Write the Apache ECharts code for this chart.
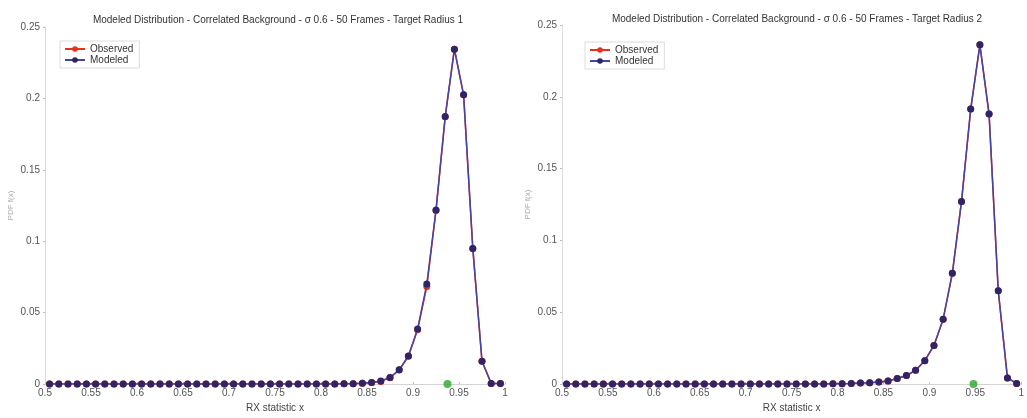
<!DOCTYPE html>
<html>
<head>
<meta charset="utf-8">
<script src="https://cdn.jsdelivr.net/npm/echarts@6/dist/echarts.min.js"></script>
<style>
  html, body { margin: 0; padding: 0; background: #fff; }
  #chart { width: 1027px; height: 418px; }
</style>
</head>
<body>
<div id="chart"></div>
<script>
// Bin centres of the RX statistic histogram
const binCenters = [
  0.505, 0.515, 0.525, 0.535, 0.545, 0.555, 0.565, 0.575, 0.585, 0.595,
  0.605, 0.615, 0.625, 0.635, 0.645, 0.655, 0.665, 0.675, 0.685, 0.695,
  0.705, 0.715, 0.725, 0.735, 0.745, 0.755, 0.765, 0.775, 0.785, 0.795,
  0.805, 0.815, 0.825, 0.835, 0.845, 0.855, 0.865, 0.875, 0.885, 0.895,
  0.905, 0.915, 0.925, 0.935, 0.945, 0.955, 0.965, 0.975, 0.985, 0.995
];

// Target radius 1
const observedR1 = [
  0, 0, 0, 0, 0, 0, 0, 0, 0, 0,
  0, 0, 0, 0, 0, 0, 0, 0, 0, 0,
  0, 0, 0, 0, 0, 0, 0, 0, 0, 0,
  0, 0.0001, 0.0002, 0.0003, 0.0006, 0.0012, 0.0019, 0.0045, 0.0098, 0.0195,
  0.0380, 0.0683, 0.1216, 0.1872, 0.2345, 0.2025, 0.0950, 0.0160, 0.0005, 0.0004
];
const modeledR1 = [
  0, 0, 0, 0, 0, 0, 0, 0, 0, 0,
  0, 0, 0, 0, 0, 0, 0, 0, 0, 0,
  0, 0, 0, 0, 0, 0, 0, 0, 0, 0,
  0, 0.0001, 0.0002, 0.0003, 0.0006, 0.0012, 0.0022, 0.0046, 0.0100, 0.0197,
  0.0385, 0.0700, 0.1218, 0.1873, 0.2345, 0.2025, 0.0950, 0.0160, 0.0005, 0.0004
];

// Target radius 2
const observedR2 = [
  0, 0, 0, 0, 0, 0, 0, 0, 0, 0,
  0, 0, 0, 0, 0, 0, 0, 0, 0, 0,
  0, 0, 0, 0, 0, 0, 0, 0, 0, 0.0002,
  0.0003, 0.0005, 0.0008, 0.0010, 0.0014, 0.0021, 0.0039, 0.0060, 0.0096, 0.0163,
  0.0269, 0.0452, 0.0771, 0.1272, 0.1915, 0.2362, 0.1880, 0.0650, 0.0043, 0.0005
];
const modeledR2 = [
  0, 0, 0, 0, 0, 0, 0, 0, 0, 0,
  0, 0, 0, 0, 0, 0, 0, 0, 0, 0,
  0, 0, 0, 0, 0, 0, 0, 0, 0, 0.0002,
  0.0003, 0.0005, 0.0008, 0.0010, 0.0014, 0.0021, 0.0039, 0.0060, 0.0096, 0.0163,
  0.0269, 0.0452, 0.0771, 0.1272, 0.1915, 0.2362, 0.1880, 0.0650, 0.0043, 0.0005
];

// Observed target statistic (green marker on the baseline)
const targetX = [0.9375, 0.948];
const targetY = [0, 0];

const titles = [
  'Modeled Distribution - Correlated Background - \u03c3 0.6 - 50 Frames - Target Radius 1',
  'Modeled Distribution - Correlated Background - \u03c3 0.6 - 50 Frames - Target Radius 2'
];
const xAxisTitle = 'RX statistic x';
const yAxisTitle = 'PDF f(x)';

const FONT = '"Liberation Sans", Arial, sans-serif';
const RED = '#e8321e';
const NAVY_LINE = '#4444a4';
const NAVY_DOT = '#2e2568';
const GREEN = '#2aa82a';

const pairs = (xs, ys) => xs.map((x, i) => [x, ys[i]]);

function makeX(gridIndex) {
  return {
    type: 'value', gridIndex, min: 0.5, max: 1, interval: 0.05,
    name: xAxisTitle, nameLocation: 'middle', nameGap: 13,
    nameTextStyle: { fontFamily: FONT, fontSize: 10, color: '#444' },
    axisLine: { show: true, lineStyle: { color: '#d4d4d4', width: 1 } },
    axisTick: { show: true, length: 2, inside: true, lineStyle: { color: '#bbb' } },
    axisLabel: { fontFamily: FONT, fontSize: 10, color: '#555', margin: 4 },
    splitLine: { show: false }
  };
}
function makeY(gridIndex) {
  return {
    type: 'value', gridIndex, min: 0, max: 0.25, interval: 0.05,
    name: yAxisTitle, nameLocation: 'middle', nameGap: 30, nameRotate: 90,
    nameTextStyle: { fontFamily: FONT, fontSize: 8, color: '#aaa' },
    axisLine: { show: true, lineStyle: { color: '#dcdcdc', width: 1 } },
    axisTick: { show: true, length: 2, lineStyle: { color: '#bbb' } },
    axisLabel: { fontFamily: FONT, fontSize: 10, color: '#555', margin: 5 },
    splitLine: { show: false }
  };
}
function lineSeries(name, idx, data, lineColor, dotColor, z) {
  return {
    name, type: 'line', xAxisIndex: idx, yAxisIndex: idx,
    data, symbol: 'circle', symbolSize: 7, showSymbol: true,
    lineStyle: { color: lineColor, width: 1.5 },
    itemStyle: { color: dotColor, borderColor: dotColor, borderWidth: 0 },
    z, animation: false
  };
}
function makeLegend(left, top) {
  return {
    left, top, orient: 'vertical', itemGap: 1,
    itemWidth: 20, itemHeight: 7,
    padding: [3, 6, 3, 4],
    borderColor: '#dcdcdc', borderWidth: 1, backgroundColor: '#fff',
    textStyle: { fontFamily: FONT, fontSize: 10, color: '#333' },
    data: ['Observed', 'Modeled'],
    selectedMode: false
  };
}

const chart = echarts.init(document.getElementById('chart'), null, { renderer: 'canvas' });
chart.setOption({
  backgroundColor: '#fff',
  animation: false,
  title: [
    { text: titles[0], left: 273, top: 10, textAlign: 'center',
      textStyle: { fontFamily: FONT, fontSize: 10, fontWeight: 'normal', color: '#333' } },
    { text: titles[1], left: 792, top: 9, textAlign: 'center',
      textStyle: { fontFamily: FONT, fontSize: 10, fontWeight: 'normal', color: '#333' } }
  ],
  legend: [makeLegend(60, 41), makeLegend(585, 42)],
  grid: [
    { left: 45, right: 522, top: 27, bottom: 29.5 },
    { left: 562, right: 4, top: 25, bottom: 30 }
  ],
  xAxis: [makeX(0), makeX(1)],
  yAxis: [makeY(0), makeY(1)],
  series: [
    lineSeries('Observed', 0, pairs(binCenters, observedR1), RED, RED, 2),
    lineSeries('Modeled', 0, pairs(binCenters, modeledR1), NAVY_LINE, NAVY_DOT, 3),
    { type: 'scatter', xAxisIndex: 0, yAxisIndex: 0, symbolSize: 8,
      data: [[targetX[0], targetY[0]]], itemStyle: { color: GREEN }, z: 4 },
    lineSeries('Observed', 1, pairs(binCenters, observedR2), RED, RED, 2),
    lineSeries('Modeled', 1, pairs(binCenters, modeledR2), NAVY_LINE, NAVY_DOT, 3),
    { type: 'scatter', xAxisIndex: 1, yAxisIndex: 1, symbolSize: 8,
      data: [[targetX[1], targetY[1]]], itemStyle: { color: GREEN }, z: 4 }
  ]
});
</script>
</body>
</html>
